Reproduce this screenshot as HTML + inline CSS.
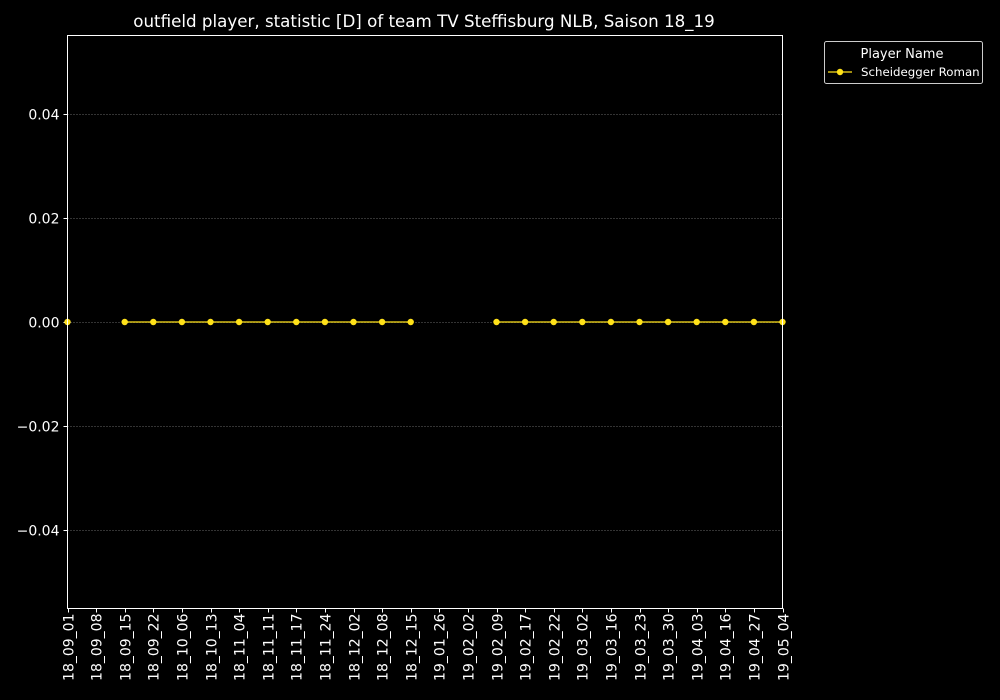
<!DOCTYPE html>
<html><head><meta charset="utf-8">
<style>
html,body{margin:0;padding:0;background:#000;}
svg{display:block;font-family:"DejaVu Sans","Liberation Sans",sans-serif;}
</style></head>
<body>
<svg id="chart" width="1000" height="700" viewBox="0 0 1000 700">
<rect x="0" y="0" width="1000" height="700" fill="#000"/>
<text x="424" y="27" fill="#fff" font-size="16.7" text-anchor="middle">outfield player, statistic [D] of team TV Steffisburg NLB, Saison 18_19</text>
<g id="grid"></g>
<g id="yticks"></g>
<g id="xticks"></g>
<g id="series"></g>
<rect x="67.5" y="35.5" width="715" height="573" fill="none" stroke="#fff" stroke-width="1"/>
<g>
<rect x="824.5" y="41.5" width="158" height="42" rx="2" fill="#000" stroke="#ccc" stroke-width="1"/>
<text x="902" y="58" fill="#fff" font-size="13" text-anchor="middle">Player Name</text>
<line x1="828" y1="72" x2="852" y2="72" stroke="#ffe119" stroke-width="1.3"/>
<circle cx="840" cy="72" r="3.2" fill="#ffe119"/>
<text x="861" y="76" fill="#fff" font-size="11.8">Scheidegger Roman</text>
</g>
</svg>
<script>
const categories = ["18_09_01","18_09_08","18_09_15","18_09_22","18_10_06","18_10_13","18_11_04","18_11_11","18_11_17","18_11_24","18_12_02","18_12_08","18_12_15","19_01_26","19_02_02","19_02_09","19_02_17","19_02_22","19_03_02","19_03_16","19_03_23","19_03_30","19_04_03","19_04_16","19_04_27","19_05_04"];
const values = [0,null,0,0,0,0,0,0,0,0,0,0,0,null,null,0,0,0,0,0,0,0,0,0,0,0];
const yTicks = [-0.04,-0.02,0,0.02,0.04];
const yTickLabels = ["\u22120.04","\u22120.02","0.00","0.02","0.04"];
const yMin = -0.055, yMax = 0.055;

const NS = "http://www.w3.org/2000/svg";
const L = 67.5, R = 782.5, T = 35.5, B = 608.5;
function xPos(i){ return L + i * (R - L) / (categories.length - 1); }
function yPos(v){ return B - (v - yMin) / (yMax - yMin) * (B - T); }
function mk(tag, attrs, parent){ const e = document.createElementNS(NS, tag); for (const k in attrs) e.setAttribute(k, attrs[k]); parent.appendChild(e); return e; }

const grid = document.getElementById('grid');
const yt = document.getElementById('yticks');
yTicks.forEach((v, i) => {
  const y = Math.round(yPos(v)) + 0.5;
  const g = mk('line', {x1: L, x2: R, y1: y, y2: y, stroke: '#888', 'stroke-width': 0.8, 'stroke-dasharray': '1,2'}, grid);
  
  
  const t = mk('line', {x1: L - 4, x2: L, y1: y, y2: y, stroke: '#fff'}, yt);
  
  
  const lb = mk('text', {x: L - 8, y: y + 5, fill: '#fff', 'font-size': 14, 'text-anchor': 'end'}, yt);
  lb.textContent = yTickLabels[i];
  
  
});

const xt = document.getElementById('xticks');
categories.forEach((c, i) => {
  const x = Math.round(xPos(i)) + 0.5;
  const t = mk('line', {x1: x, x2: x, y1: B, y2: B + 4, stroke: '#fff'}, xt);
  
  
  const lb = mk('text', {x: 0, y: 0, fill: '#fff', 'font-size': 14, 'text-anchor': 'end', transform: 'translate(' + (x + 5) + ',' + (B + 5) + ') rotate(-90)'}, xt);
  lb.textContent = c;
  
  
});

const s = document.getElementById('series');
let seg = [];
function flush(){
  if (seg.length > 1) {
    const p = mk('polyline', {points: seg.join(' '), fill: 'none', stroke: '#ffe119', 'stroke-width': 1.2}, s);
    
    
  }
  seg = [];
}
values.forEach((v, i) => {
  if (v === null) { flush(); return; }
  seg.push(xPos(i) + ',' + yPos(v));
});
flush();
values.forEach((v, i) => {
  if (v === null) return;
  const c = mk('circle', {cx: xPos(i), cy: yPos(v), r: 3.2, fill: '#ffe119'}, s);
  
  
});
</script>
</body></html>
